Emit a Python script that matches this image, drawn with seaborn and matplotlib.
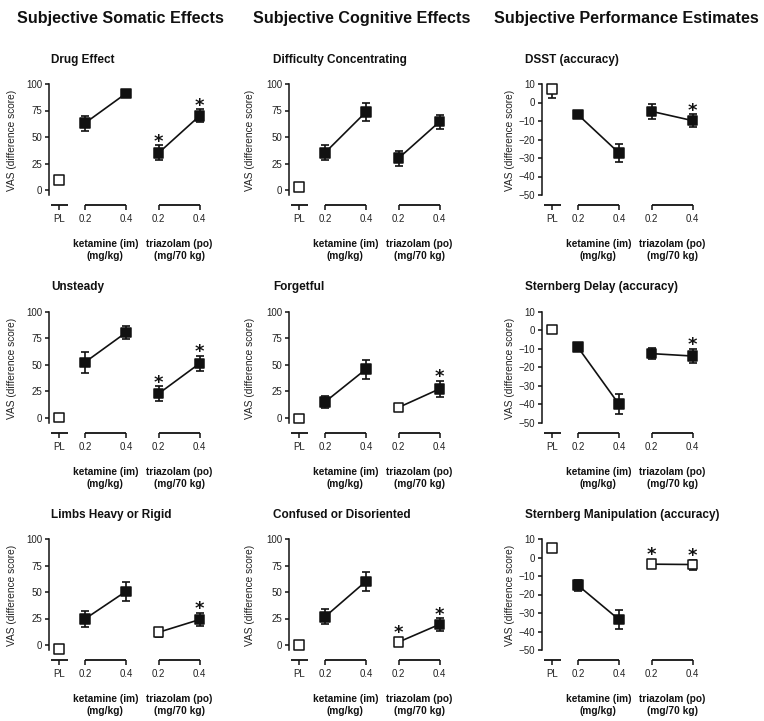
import numpy as np
import pandas as pd
import matplotlib
matplotlib.use('Agg')
import matplotlib.pyplot as plt
import matplotlib.transforms as mtransforms
import seaborn as sns

# ---- data ----
column_headers = ['Subjective Somatic Effects', 'Subjective Cognitive Effects',
                  'Subjective Performance Estimates']
panel_titles = [['Drug Effect', 'Difficulty Concentrating', 'DSST (accuracy)'],
                ['Unsteady', 'Forgetful', 'Sternberg Delay (accuracy)'],
                ['Limbs Heavy or Rigid', 'Confused or Disoriented',
                 'Sternberg Manipulation (accuracy)']]
dose_labels = ['PL', '0.2', '0.4', '0.2', '0.4']
dose_drug = ['placebo', 'ketamine', 'ketamine', 'triazolam', 'triazolam']
ketamine_label = 'ketamine (im)\n(mg/kg)'
triazolam_label = 'triazolam (po)\n(mg/70 kg)'
y_label = 'VAS (difference score)'
vas_ticks = [0, 25, 50, 75, 100]
perf_ticks = [10, 0, -10, -20, -30, -40, -50]

# order: PL, ket 0.2, ket 0.4, tri 0.2, tri 0.4
means = [[[9.5, 63, 91, 35, 70], [3, 35, 73.5, 30, 64.5], [7.2, -6.5, -27.2, -4.8, -9.8]],
         [[0.5, 52.5, 80.5, 23, 51.5], [-0.5, 15, 46, 10, 27.5], [0.5, -9, -39.8, -12.5, -13.8]],
         [[-3.5, 24.5, 50.5, 12, 24], [0, 26.5, 60, 2.8, 19.5], [5, -15, -33.5, -3.6, -3.8]]]
sems = [[[2, 7, 2, 7, 6], [2, 7, 8.5, 7, 6.5], [4.5, 1.5, 5, 4, 3.6]],
        [[2, 9.7, 6, 7, 7.3], [2, 5.4, 9, 3, 7.5], [2, 2, 5.6, 3, 4]],
        [[2, 7.3, 9, 4, 6.3], [2, 7, 9.2, 2, 6], [2, 3, 5, 1, 2.7]]]
filled = [[[0, 1, 1, 1, 1], [0, 1, 1, 1, 1], [0, 1, 1, 1, 1]],
          [[0, 1, 1, 1, 1], [0, 1, 1, 0, 1], [0, 1, 1, 1, 1]],
          [[0, 1, 1, 0, 1], [0, 1, 1, 0, 1], [0, 1, 1, 0, 0]]]
stars = [[[0, 0, 0, 1, 1], [0, 0, 0, 0, 0], [0, 0, 0, 0, 1]],
         [[0, 0, 0, 1, 1], [0, 0, 0, 0, 1], [0, 0, 0, 0, 1]],
         [[0, 0, 0, 0, 1], [0, 0, 0, 1, 1], [0, 0, 0, 1, 1]]]

# ---- layout (pixels) ----
W, H = 764, 721
spine_x = [49, 289, 542]
row_top = [84, 312, 539]
ax_w, ax_h = 170, 121
x_pos = np.array([0, 0.63, 1.63, 2.43, 3.43])
px_per_x = 41.0
title_x = [51, 273, 525]
title_y = [60, 287, 515]
header_x = [120, 362, 626]
ylabel_off = [32, 34, 27]
ink = '#111111'

sns.set_theme(style='ticks')
plt.rcParams['font.family'] = ['Liberation Sans', 'DejaVu Sans']

fig = plt.figure(figsize=(W / 100, H / 100), dpi=100)

for c, head in enumerate(column_headers):
    fig.text(header_x[c] / W, 1 - 18 / H, head, ha='center', va='center',
             fontsize=11.6, fontweight='bold', color=ink)

for r in range(3):
    for c in range(3):
        ax = fig.add_axes([spine_x[c] / W, 1 - (row_top[r] + ax_h) / H, ax_w / W, ax_h / H])
        perf = c == 2
        if perf:
            ppu = 1.85
            ytop, ticks, lo = 10, perf_ticks, -50
        else:
            ppu = 1.06
            ytop, ticks, lo = 100, vas_ticks, -4.5
        ax.set_ylim(ytop - ax_h / ppu, ytop)
        x0 = -10 / px_per_x
        ax.set_xlim(x0, x0 + ax_w / px_per_x)

        df = pd.DataFrame({'pos': x_pos, 'mean': means[r][c], 'sem': sems[r][c],
                           'drug': dose_drug, 'filled': [bool(v) for v in filled[r][c]]})

        sns.lineplot(data=df[df.drug != 'placebo'], x='pos', y='mean', units='drug',
                     estimator=None, color=ink, lw=1.2, ax=ax, legend=False, zorder=1)
        ax.errorbar(df['pos'], df['mean'], yerr=df['sem'], fmt='none', ecolor=ink,
                    elinewidth=1.2, capsize=3.2, capthick=1.2, zorder=2)
        sns.scatterplot(data=df, x='pos', y='mean', hue='filled',
                        palette={True: ink, False: 'white'}, marker='s', s=48,
                        edgecolor=ink, linewidth=1.1, ax=ax, legend=False,
                        zorder=3, clip_on=False)

        # significance stars
        for i in range(5):
            if stars[r][c][i]:
                top_px = max(df['sem'][i] * ppu, 5.5)
                ax.annotate('*', xy=(x_pos[i], df['mean'][i]),
                            xytext=(0, (top_px + 9) * 0.72 - 7.6),
                            textcoords='offset points', ha='center', va='baseline',
                            fontsize=13, fontweight='bold', family='DejaVu Sans',
                            color=ink)

        # axes styling
        for side in ['top', 'right', 'bottom']:
            ax.spines[side].set_visible(False)
        ax.spines['left'].set_bounds(lo, ytop)
        ax.spines['left'].set_linewidth(1.1)
        ax.spines['left'].set_color(ink)
        ax.set_yticks(ticks)
        ax.set_xticks(x_pos, dose_labels)
        ax.tick_params(axis='y', length=3, width=1.1, pad=2, labelsize=7,
                       color=ink, labelcolor='#222222')
        ax.tick_params(axis='x', length=3.5, width=1.1, pad=3, labelsize=7,
                       color=ink, labelcolor='#222222')
        ax.set_xlabel('')
        ax.set_ylabel(y_label, fontsize=7.3, color='#222222')
        ax.yaxis.set_label_coords(-ylabel_off[c] / ax_w, 0.53)

        # broken x axis: placebo, ketamine and triazolam segments
        trans = mtransforms.blended_transform_factory(ax.transData, ax.transAxes)
        segs = [(x_pos[0] - 0.2, x_pos[0] + 0.22), (x_pos[1], x_pos[2]), (x_pos[3], x_pos[4])]
        for a, b in segs:
            ax.plot([a, b], [0, 0], transform=trans, color=ink, lw=1.3, clip_on=False,
                    solid_capstyle='butt')

        for lab, (a, b) in zip([ketamine_label, triazolam_label], segs[1:]):
            ax.annotate(lab, xy=((a + b) / 2, 0), xycoords=trans, xytext=(0, -24.5),
                        textcoords='offset points', ha='center', va='top',
                        fontsize=7.3, fontweight='bold', color=ink, linespacing=1.25)

        fig.text(title_x[c] / W, 1 - title_y[r] / H, panel_titles[r][c], ha='left',
                 va='center', fontsize=8.5, fontweight='bold', color=ink)

fig.savefig('out.png', dpi=100)
